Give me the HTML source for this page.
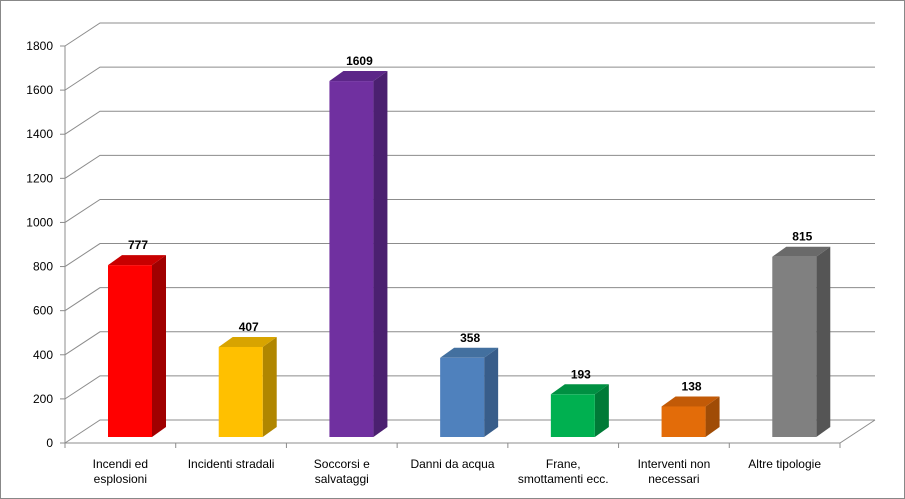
<!DOCTYPE html>
<html><head><meta charset="utf-8"><style>
body{margin:0;background:#fff}
svg{display:block;font-family:"Liberation Sans",sans-serif}
</style></head><body>
<svg width="905" height="499" viewBox="0 0 905 499">
<rect x="0.5" y="0.5" width="904" height="498" fill="#fff" stroke="#888"/>
<g id="grid"></g>
<g id="axes"></g>
<g id="bars"></g>
<g id="labels"></g>
</svg>
<script>
const categories=[["Incendi ed","esplosioni"],["Incidenti stradali"],["Soccorsi e","salvataggi"],["Danni da acqua"],["Frane,","smottamenti ecc."],["Interventi non","necessari"],["Altre tipologie"]];
const values=[777,407,1609,358,193,138,815];
const yTicks=[0,200,400,600,800,1000,1200,1400,1600,1800];
const fronts=["#FF0000","#FFC000","#7030A0","#4F81BD","#00B050","#E36C09","#808080"];
const sides=["#A00000","#B08600","#4B2070","#385D8A","#007A37","#A04C06","#555555"];
const tops=["#C80000","#D8A400","#5C2688","#43709F","#009042","#C25A07","#6A6A6A"];
const NS="http://www.w3.org/2000/svg";
const X0=65,X1=840,Y0=443,Y1800=46,DX=35,DY=23;
const yS=v=>Y0-(v/1800)*(Y0-Y1800);
const step=(X1-X0)/categories.length;
function el(t,a,p){const e=document.createElementNS(NS,t);for(const k in a)e.setAttribute(k,a[k]);p.appendChild(e);return e;}
const grid=document.getElementById('grid'),axes=document.getElementById('axes'),bars=document.getElementById('bars'),labels=document.getElementById('labels');
yTicks.forEach(v=>{const y=yS(v);
 const p=el('polyline',{points:`${X0},${y} ${X0+DX},${y-DY} ${X1+DX},${y-DY}`,fill:'none',stroke:'#8c8c8c','stroke-width':1},grid);
 
 const tk=el('line',{x1:X0-5,y1:y,x2:X0,y2:y,stroke:'#8c8c8c'},axes);
 
 const t=el('text',{x:X0-12,y:y+4,'text-anchor':'end','font-size':12,fill:'#000'},labels);t.textContent=v;
 
});
el('line',{x1:X0,y1:Y1800,x2:X0,y2:Y0,stroke:'#8c8c8c'},axes);
el('polyline',{points:`${X0},${Y0} ${X1},${Y0} ${X1+DX},${Y0-DY}`,fill:'none',stroke:'#8c8c8c'},axes);
for(let i=0;i<=categories.length;i++){const x=X0+i*step;const l=el('line',{x1:x,y1:Y0,x2:x,y2:Y0+5,stroke:'#8c8c8c'},axes);
 }
const base=437,bw=44,sd=14,td=10,sc=(Y0-Y1800)/1800*1.003;
values.forEach((v,i)=>{
 const x=X0+i*step+43,top=base-v*sc;
 const g=el('g',{},bars);
 el('polygon',{points:`${x+bw},${top} ${x+bw+sd},${top-td} ${x+bw+sd},${base-td} ${x+bw},${base}`,fill:sides[i]},g);
 el('polygon',{points:`${x},${top} ${x+sd},${top-td} ${x+bw+sd},${top-td} ${x+bw},${top}`,fill:tops[i]},g);
 el('rect',{x:x,y:top,width:bw,height:base-top,fill:fronts[i]},g);
 const t=el('text',{x:x+bw/2+8,y:top-td-6,'text-anchor':'middle','font-size':12,'font-weight':'bold'},labels);t.textContent=v;
 
 const cx=X0+i*step+step/2;
 categories[i].forEach((ln,j)=>{const c=el('text',{x:cx,y:468+j*15,'text-anchor':'middle','font-size':12},labels);c.textContent=ln;
  });
});
</script>
</body></html>
